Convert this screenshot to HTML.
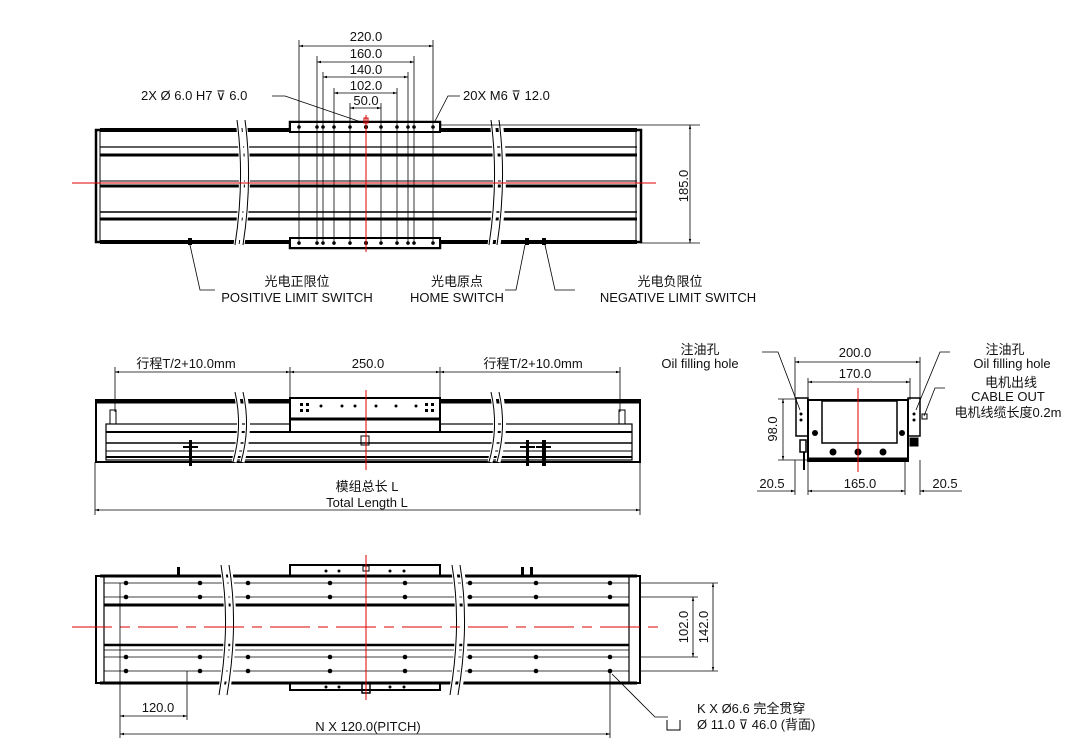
<!DOCTYPE html>
<html><head><meta charset="utf-8"><style>
html,body{margin:0;padding:0;background:#fff;width:1082px;height:750px;overflow:hidden}
svg{display:block}
text{font-family:"Liberation Sans","Noto Sans CJK SC",sans-serif;font-size:13px;fill:#111}
</style></head><body>
<svg width="1082" height="750" viewBox="0 0 1082 750" xmlns="http://www.w3.org/2000/svg">
<defs>
<marker id="a" viewBox="0 0 10 10" refX="10" refY="5" markerWidth="7" markerHeight="5" orient="auto-start-reverse"><path d="M0,2 L10,5 L0,8 z" fill="#000"/></marker>
<g id="col" fill="#000" stroke="none"><circle cx="0" cy="583" r="2.3"/><circle cx="0" cy="597" r="2.3"/><circle cx="0" cy="657" r="2.3"/><circle cx="0" cy="671" r="2.3"/></g>
</defs>
<g stroke="#000" fill="none">
<!-- ===== TOP VIEW ===== -->
<rect x="290" y="122" width="150" height="126" stroke-width="2.5" fill="#fff"/>
<rect x="96" y="130" width="545" height="112" stroke-width="2.5" fill="#fff"/>
<line x1="100" y1="130" x2="637" y2="130" stroke-width="4"/>
<line x1="100" y1="242" x2="637" y2="242" stroke-width="4"/>
<line x1="100" y1="147" x2="637" y2="147" stroke-width="1.2"/>
<line x1="100" y1="155" x2="637" y2="155" stroke-width="3"/>
<line x1="100" y1="181" x2="637" y2="181" stroke-width="1"/>
<line x1="100" y1="186" x2="637" y2="186" stroke-width="3"/>
<line x1="100" y1="212" x2="637" y2="212" stroke-width="1.5"/>
<line x1="100" y1="219" x2="637" y2="219" stroke-width="3"/>
<line x1="100" y1="130" x2="100" y2="242" stroke-width="1"/>
<line x1="636" y1="130" x2="636" y2="242" stroke-width="1"/>
<rect x="290" y="122" width="150" height="10" stroke-width="2" fill="#fff"/>
<rect x="290" y="238" width="150" height="10" stroke-width="2" fill="#fff"/>
<path d="M238,120 q8,60 -2,125 M244,120 q8,60 -2,125" stroke="#fff" stroke-width="5"/>
<path d="M237,120 q8,60 -2,125 M245,120 q8,60 -2,125" stroke-width="1"/>
<path d="M492,120 q8,60 -2,125 M500,120 q8,60 -2,125" stroke="#fff" stroke-width="5"/>
<path d="M491,120 q8,60 -2,125 M499,120 q8,60 -2,125" stroke-width="1"/>
<g stroke-width="0.8">
<line x1="299" y1="40" x2="299" y2="245"/><line x1="433" y1="40" x2="433" y2="245"/>
<line x1="317" y1="56" x2="317" y2="245"/><line x1="414" y1="56" x2="414" y2="245"/>
<line x1="323" y1="72" x2="323" y2="245"/><line x1="408" y1="72" x2="408" y2="245"/>
<line x1="334" y1="88" x2="334" y2="245"/><line x1="397" y1="88" x2="397" y2="245"/>
<line x1="350" y1="103" x2="350" y2="245"/><line x1="381" y1="103" x2="381" y2="245"/>
<line x1="299" y1="46" x2="433" y2="46" marker-start="url(#a)" marker-end="url(#a)"/>
<line x1="317" y1="62" x2="414" y2="62" marker-start="url(#a)" marker-end="url(#a)"/>
<line x1="323" y1="77" x2="408" y2="77" marker-start="url(#a)" marker-end="url(#a)"/>
<line x1="334" y1="93" x2="397" y2="93" marker-start="url(#a)" marker-end="url(#a)"/>
<line x1="350" y1="108" x2="381" y2="108" marker-start="url(#a)" marker-end="url(#a)"/>
<line x1="440" y1="125" x2="700" y2="125"/><line x1="640" y1="243" x2="700" y2="243"/>
<line x1="690" y1="125" x2="690" y2="243" marker-start="url(#a)" marker-end="url(#a)"/>
<polyline points="272,96 285,96 364,123"/>
<polyline points="460,96 448,96 434,123"/>
<polyline points="190,245 200,290 215,290"/>
<polyline points="525,245 516,290 505,290"/>
<polyline points="545,245 555,290 575,290"/>
</g>
<g fill="#000" stroke="none">
<circle cx="299" cy="127" r="1.8"/><circle cx="317" cy="127" r="1.8"/><circle cx="323" cy="127" r="1.8"/><circle cx="334" cy="127" r="1.8"/><circle cx="350" cy="127" r="1.8"/><circle cx="366" cy="127" r="2"/><circle cx="381" cy="127" r="1.8"/><circle cx="397" cy="127" r="1.8"/><circle cx="408" cy="127" r="1.8"/><circle cx="414" cy="127" r="1.8"/><circle cx="433" cy="127" r="1.8"/>
<circle cx="299" cy="243" r="1.8"/><circle cx="317" cy="243" r="1.8"/><circle cx="323" cy="243" r="1.8"/><circle cx="334" cy="243" r="1.8"/><circle cx="350" cy="243" r="1.8"/><circle cx="366" cy="243" r="2"/><circle cx="381" cy="243" r="1.8"/><circle cx="397" cy="243" r="1.8"/><circle cx="408" cy="243" r="1.8"/><circle cx="414" cy="243" r="1.8"/><circle cx="433" cy="243" r="1.8"/>
<rect x="188" y="238" width="4" height="7"/><rect x="525" y="238" width="4" height="7"/><rect x="542" y="238" width="4" height="7"/>
</g>
<rect x="364" y="118" width="4" height="5" stroke="#c00" stroke-width="1"/>
<line x1="72" y1="183" x2="656" y2="183" stroke="#d00" stroke-width="1"/>
<line x1="366" y1="115" x2="366" y2="252" stroke="#d00" stroke-width="1"/>

<!-- ===== SIDE VIEW ===== -->
<rect x="96" y="400" width="544" height="62" stroke-width="2" fill="#fff"/>
<line x1="96" y1="402" x2="640" y2="402" stroke-width="3"/>
<rect x="106" y="424" width="526" height="36" stroke-width="1.2"/>
<line x1="106" y1="432" x2="632" y2="432" stroke-width="2"/>
<line x1="106" y1="443" x2="632" y2="443" stroke-width="1.5"/>
<line x1="106" y1="451" x2="632" y2="451" stroke-width="1"/>
<line x1="106" y1="457" x2="632" y2="457" stroke-width="2"/>
<rect x="110" y="410" width="6" height="14" stroke-width="1"/>
<rect x="619" y="410" width="6" height="14" stroke-width="1"/>
<rect x="290" y="398" width="150" height="34" stroke-width="2" fill="#fff"/>
<line x1="290" y1="419" x2="440" y2="419" stroke-width="3"/>
<rect x="361" y="436" width="8" height="9" stroke-width="1"/>
<g fill="#000" stroke="none">
<rect x="300" y="403" width="3" height="3"/><rect x="306" y="403" width="3" height="3"/><rect x="300" y="409" width="3" height="3"/><rect x="306" y="409" width="3" height="3"/>
<circle cx="321" cy="406" r="1.5"/><circle cx="342" cy="406" r="1.5"/><circle cx="355" cy="406" r="1.5"/><circle cx="376" cy="406" r="1.5"/><circle cx="396" cy="406" r="1.5"/><circle cx="416" cy="406" r="1.5"/>
<rect x="425" y="403" width="3" height="3"/><rect x="431" y="403" width="3" height="3"/><rect x="425" y="409" width="3" height="3"/><rect x="431" y="409" width="3" height="3"/>
<rect x="189" y="440" width="3" height="26"/><rect x="183" y="446" width="15" height="2"/>
<rect x="526" y="440" width="3" height="26"/><rect x="520" y="446" width="15" height="2"/>
<rect x="542" y="440" width="4" height="26"/><rect x="536" y="446" width="15" height="2"/>
</g>
<path d="M236,392 q8,35 -2,70 M244,392 q8,35 -2,70" stroke="#fff" stroke-width="5"/>
<path d="M235,392 q8,35 -2,70 M243,392 q8,35 -2,70" stroke-width="1"/>
<path d="M492,392 q8,35 -2,70 M500,392 q8,35 -2,70" stroke="#fff" stroke-width="5"/>
<path d="M491,392 q8,35 -2,70 M499,392 q8,35 -2,70" stroke-width="1"/>
<line x1="366" y1="390" x2="366" y2="470" stroke="#d00" stroke-width="1"/>
<g stroke-width="0.8">
<line x1="115" y1="367" x2="115" y2="412"/><line x1="290" y1="367" x2="290" y2="398"/>
<line x1="440" y1="367" x2="440" y2="398"/><line x1="620" y1="367" x2="620" y2="412"/>
<line x1="115" y1="372" x2="290" y2="372" marker-start="url(#a)" marker-end="url(#a)"/>
<line x1="290" y1="372" x2="440" y2="372" marker-start="url(#a)" marker-end="url(#a)"/>
<line x1="440" y1="372" x2="620" y2="372" marker-start="url(#a)" marker-end="url(#a)"/>
<line x1="95" y1="462" x2="95" y2="515"/><line x1="640" y1="462" x2="640" y2="515"/>
<line x1="95" y1="510" x2="640" y2="510" marker-start="url(#a)" marker-end="url(#a)"/>
</g>

<!-- ===== END VIEW ===== -->
<rect x="808" y="400" width="100" height="61" stroke-width="2" fill="#fff"/>
<rect x="822" y="401" width="75" height="42" stroke-width="1.5"/>
<line x1="808" y1="459" x2="908" y2="459" stroke-width="3"/>
<rect x="796" y="398" width="12" height="38" stroke-width="1.5"/>
<rect x="908" y="398" width="12" height="38" stroke-width="1.5"/>
<rect x="800" y="440" width="6" height="12" stroke-width="1.5"/>
<line x1="804" y1="452" x2="804" y2="470" stroke-width="2"/>
<rect x="910" y="438" width="8" height="8" fill="#000"/>
<g fill="#000" stroke="none">
<circle cx="833" cy="452" r="3.5"/><circle cx="858" cy="452" r="3.5"/><circle cx="883" cy="452" r="3.5"/>
<circle cx="815" cy="433" r="3"/><circle cx="902" cy="433" r="3"/>
<circle cx="801" cy="414" r="1.5"/><circle cx="801" cy="420" r="1.5"/><circle cx="914" cy="414" r="1.5"/><circle cx="914" cy="420" r="1.5"/>
</g>
<rect x="922" y="414" width="5" height="5" stroke-width="1"/>
<line x1="858" y1="388" x2="858" y2="472" stroke="#d00" stroke-width="1"/>
<g stroke-width="0.8">
<line x1="795" y1="357" x2="795" y2="398"/><line x1="920" y1="357" x2="920" y2="398"/>
<line x1="795" y1="362" x2="920" y2="362" marker-start="url(#a)" marker-end="url(#a)"/>
<line x1="808" y1="378" x2="808" y2="400"/><line x1="910" y1="378" x2="910" y2="400"/>
<line x1="808" y1="382" x2="910" y2="382" marker-start="url(#a)" marker-end="url(#a)"/>
<line x1="778" y1="399" x2="796" y2="399"/><line x1="778" y1="460" x2="808" y2="460"/>
<line x1="783" y1="399" x2="783" y2="460" marker-start="url(#a)" marker-end="url(#a)"/>
<line x1="795" y1="460" x2="795" y2="495"/><line x1="808" y1="460" x2="808" y2="495"/>
<line x1="905" y1="460" x2="905" y2="495"/><line x1="920" y1="460" x2="920" y2="495"/>
<line x1="757" y1="491" x2="795" y2="491" marker-end="url(#a)"/>
<line x1="808" y1="491" x2="905" y2="491" marker-start="url(#a)" marker-end="url(#a)"/>
<line x1="920" y1="491" x2="962" y2="491" marker-start="url(#a)"/>
<polyline points="762,352 778,352 800,410"/>
<polyline points="950,352 940,352 916,410"/>
<polyline points="945,388 935,388 924,416"/>
</g>

<!-- ===== BOTTOM VIEW ===== -->
<rect x="290" y="565" width="150" height="125" stroke-width="2" fill="#fff"/>
<rect x="96" y="576" width="544" height="107" stroke-width="2" fill="#fff"/>
<line x1="100" y1="576" x2="637" y2="576" stroke-width="3"/>
<line x1="100" y1="683" x2="637" y2="683" stroke-width="3"/>
<line x1="104" y1="576" x2="104" y2="683" stroke-width="1.2"/>
<line x1="629" y1="576" x2="629" y2="683" stroke-width="1.2"/>
<line x1="104" y1="583" x2="629" y2="583" stroke-width="0.8"/>
<line x1="104" y1="597" x2="629" y2="597" stroke-width="0.8"/>
<line x1="104" y1="605" x2="629" y2="605" stroke-width="3"/>
<line x1="104" y1="645" x2="629" y2="645" stroke-width="2.5"/>
<line x1="104" y1="650" x2="629" y2="650" stroke-width="0.8"/>
<line x1="104" y1="657" x2="629" y2="657" stroke-width="0.8"/>
<line x1="104" y1="671" x2="629" y2="671" stroke-width="0.8"/>
<rect x="362" y="683" width="8" height="10" stroke-width="1.5"/>
<rect x="363" y="566" width="6" height="5" stroke-width="1"/>
<path d="M222,565 q10,60 -2,130 M229,565 q10,60 -2,130" stroke="#fff" stroke-width="5"/>
<path d="M221,565 q10,60 -2,130 M229,565 q10,60 -2,130" stroke-width="1"/>
<path d="M453,565 q10,60 -2,130 M461,565 q10,60 -2,130" stroke="#fff" stroke-width="5"/>
<path d="M452,565 q10,60 -2,130 M460,565 q10,60 -2,130" stroke-width="1"/>
<use href="#col" x="126"/><use href="#col" x="200"/><use href="#col" x="248"/><use href="#col" x="330"/><use href="#col" x="405"/><use href="#col" x="470"/><use href="#col" x="536"/><use href="#col" x="610"/>
<g fill="#000" stroke="none">
<circle cx="326" cy="571" r="1.5"/><circle cx="339" cy="571" r="1.5"/><circle cx="390" cy="571" r="1.5"/><circle cx="404" cy="571" r="1.5"/>
<circle cx="326" cy="687" r="1.5"/><circle cx="339" cy="687" r="1.5"/><circle cx="390" cy="687" r="1.5"/><circle cx="404" cy="687" r="1.5"/>
<rect x="177" y="567" width="3" height="8"/><rect x="521" y="567" width="3" height="8"/><rect x="530" y="567" width="3" height="8"/>
</g>
<line x1="72" y1="627" x2="662" y2="627" stroke="#d00" stroke-width="1" stroke-dasharray="40,8,10,8"/>
<line x1="366" y1="555" x2="366" y2="700" stroke="#d00" stroke-width="1"/>
<g stroke-width="0.8">
<line x1="640" y1="583" x2="718" y2="583"/><line x1="640" y1="597" x2="698" y2="597"/>
<line x1="640" y1="657" x2="698" y2="657"/><line x1="640" y1="671" x2="718" y2="671"/>
<line x1="693" y1="597" x2="693" y2="657" marker-start="url(#a)" marker-end="url(#a)"/>
<line x1="713" y1="583" x2="713" y2="671" marker-start="url(#a)" marker-end="url(#a)"/>
<line x1="120" y1="583" x2="120" y2="738"/><line x1="187" y1="671" x2="187" y2="720"/>
<line x1="610" y1="671" x2="610" y2="738"/>
<line x1="120" y1="716" x2="187" y2="716" marker-start="url(#a)" marker-end="url(#a)"/>
<line x1="120" y1="734" x2="610" y2="734" marker-start="url(#a)" marker-end="url(#a)"/>
<polyline points="612,674 655,717 668,717"/>
<polyline points="667,720 667,730 680,730 680,720" stroke-width="1"/>
</g>
</g>

<!-- TEXT -->
<g text-anchor="middle">
<text x="366" y="41">220.0</text>
<text x="366" y="58">160.0</text>
<text x="366" y="74">140.0</text>
<text x="366" y="90">102.0</text>
<text x="366" y="105">50.0</text>
<text x="297" y="286">光电正限位</text>
<text x="297" y="302">POSITIVE LIMIT SWITCH</text>
<text x="457" y="286">光电原点</text>
<text x="457" y="302">HOME SWITCH</text>
<text x="670" y="286">光电负限位</text>
<text x="678" y="302">NEGATIVE LIMIT SWITCH</text>
<text x="186" y="368">行程T/2+10.0mm</text>
<text x="368" y="368">250.0</text>
<text x="533" y="368">行程T/2+10.0mm</text>
<text x="367" y="491">模组总长 L</text>
<text x="367" y="507">Total Length L</text>
<text x="700" y="354">注油孔</text>
<text x="700" y="368">Oil filling hole</text>
<text x="855" y="357">200.0</text>
<text x="855" y="378">170.0</text>
<text x="1005" y="354">注油孔</text>
<text x="1012" y="368">Oil filling hole</text>
<text x="1011" y="387">电机出线</text>
<text x="1008" y="401">CABLE OUT</text>
<text x="1008" y="417">电机线缆长度0.2m</text>
<text x="772" y="488">20.5</text>
<text x="860" y="488">165.0</text>
<text x="945" y="488">20.5</text>
<text x="158" y="712">120.0</text>
<text x="368" y="731">N X 120.0(PITCH)</text>
</g>
<text x="141" y="100">2X Ø 6.0 H7 ⊽ 6.0</text>
<text x="463" y="100">20X  M6  ⊽ 12.0</text>
<text x="697" y="713">K X Ø6.6 完全贯穿</text>
<text x="697" y="729">Ø 11.0 ⊽ 46.0 (背面)</text>
<text transform="translate(688,186) rotate(-90)" text-anchor="middle">185.0</text>
<text transform="translate(777,429) rotate(-90)" text-anchor="middle">98.0</text>
<text transform="translate(688,627) rotate(-90)" text-anchor="middle">102.0</text>
<text transform="translate(708,627) rotate(-90)" text-anchor="middle">142.0</text>
</svg>
</body></html>
